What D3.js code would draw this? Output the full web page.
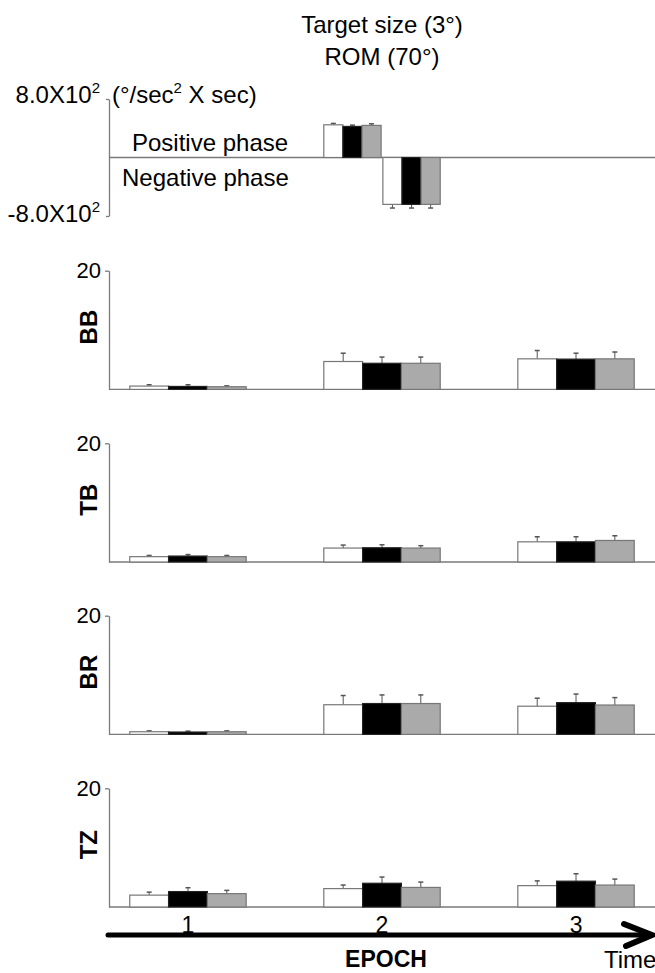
<!DOCTYPE html>
<html>
<head>
<meta charset="utf-8">
<script src="https://cdn.jsdelivr.net/npm/d3@7"></script>
<style>
  body { margin: 0; background: white; }
  svg { display: block; }
</style>
</head>
<body>
<div id="viz-container"></div>
<script>
// epochs on the time axis
let epochs = ["1", "2", "3"];
// the three conditions (white, black, grey bars)
let conditions = ["c1", "c2", "c3"];
let muscles = ["BB", "TB", "BR", "TZ"];

// EMG means per epoch x condition, and the top of each error bar
let bbMean = [[0.56, 0.5, 0.45], [4.7, 4.4, 4.4], [5.15, 5.1, 5.15]];
let bbErr = [[0.78, 0.78, 0.6], [6.1, 5.45, 5.45], [6.55, 6.1, 6.3]];
let tbMean = [[0.9, 1.0, 0.9], [2.35, 2.4, 2.35], [3.4, 3.4, 3.63]];
let tbErr = [[1.1, 1.25, 1.1], [2.85, 2.9, 2.75], [4.25, 4.25, 4.42]];
let brMean = [[0.45, 0.4, 0.45], [5.0, 5.2, 5.2], [4.75, 5.35, 4.95]];
let brErr = [[0.6, 0.55, 0.6], [6.55, 6.65, 6.65], [6.1, 6.8, 6.2]];
let tzMean = [[2.0, 2.6, 2.25], [3.1, 4.0, 3.3], [3.6, 4.35, 3.7]];
let tzErr = [[2.5, 3.25, 2.8], [3.7, 5.05, 4.2], [4.4, 5.6, 4.7]];
let emgTicks = [20];

// acceleration impulse of epoch 2, split in phases
let phases = ["Positive phase", "Negative phase"];
let phaseMean = [[447, 425, 439], [-641, -641, -641]];
let phaseErr = [[466, 443, 461], [-691, -691, -691]];
let phaseTicks = [-800, 800];

let W = 655, H = 973;
let font = "'Liberation Sans', Arial, sans-serif";
let fills = { c1: "white", c2: "black", c3: "#aaaaaa" };
let strokes = { c1: "#777", c2: "#222", c3: "#777" };
let axisColor = "#7a7a7a";

let viz = d3.select("#viz-container")
  .append("svg")
    .attr("width", W)
    .attr("height", H)
    .attr("font-family", font)
;

let x = d3.scaleBand().domain(epochs).range([109, W]).paddingInner(0.4).paddingOuter(0.107);
let xc = d3.scaleBand().domain(conditions).range([0, x.bandwidth()]);
let xp = d3.scaleBand().domain(phases).range([0, x.bandwidth()]).paddingInner(0.03);
let xpc = d3.scaleBand().domain(conditions).range([0, xp.bandwidth()]);

//title over epoch 2
let midX = x("2") + x.bandwidth() / 2;
viz.append("text")
    .attr("x", midX).attr("y", 33)
    .attr("text-anchor", "middle").attr("font-size", 24)
    .text("Target size (3°)");
viz.append("text")
    .attr("x", midX).attr("y", 65)
    .attr("text-anchor", "middle").attr("font-size", 24)
    .text("ROM (70°)");

function styleAxis(g, size){
  g.attr("font-family", font).attr("font-size", size);
  g.select(".domain").attr("stroke", axisColor).attr("stroke-width", 1.3);
  g.selectAll(".tick line").attr("stroke", axisColor).attr("stroke-width", 1.3);
  g.selectAll(".tick text").attr("fill", "black");
}

function errorBars(g, rows, xpos, w, y){
  g.selectAll(".err").data(rows).enter()
    .append("line")
      .attr("x1", d => xpos(d) + w / 2)
      .attr("x2", d => xpos(d) + w / 2)
      .attr("y1", d => y(d.mean))
      .attr("y2", d => y(d.err))
      .attr("stroke", "#555").attr("stroke-width", 1)
  ;
  g.selectAll(".cap").data(rows).enter()
    .append("line")
      .attr("x1", d => xpos(d) + w / 2 - 2.5)
      .attr("x2", d => xpos(d) + w / 2 + 2.5)
      .attr("y1", d => y(d.err))
      .attr("y2", d => y(d.err))
      .attr("stroke", "#555").attr("stroke-width", 1.5)
  ;
}

function bars(g, rows, xpos, w, y){
  g.selectAll(".bar").data(rows).enter()
    .append("rect")
      .attr("x", d => xpos(d))
      .attr("width", w)
      .attr("y", d => Math.min(y(d.mean), y(0)))
      .attr("height", d => Math.abs(y(d.mean) - y(0)))
      .attr("fill", d => fills[d.cond])
      .attr("stroke", d => strokes[d.cond])
      .attr("stroke-width", 1.2)
  ;
}

//top panel: positive / negative phase
let yTop = d3.scaleLinear().domain([-800, 800]).range([216, 99]);
let topPanel = viz.append("g");

let phaseRows = [];
phases.forEach((p, i) => conditions.forEach((c, j) => {
  phaseRows.push({ phase: p, cond: c, mean: phaseMean[i][j], err: phaseErr[i][j] });
}));

topPanel.append("line")
    .attr("x1", 109).attr("x2", W)
    .attr("y1", yTop(0)).attr("y2", yTop(0))
    .attr("stroke", axisColor).attr("stroke-width", 1.3);

let phaseX = d => x("2") + xp(d.phase) + xpc(d.cond);
errorBars(topPanel, phaseRows, phaseX, xpc.bandwidth(), yTop);
bars(topPanel, phaseRows, phaseX, xpc.bandwidth(), yTop);

let topAxis = topPanel.append("g")
    .attr("transform", "translate(109,0)")
    .call(d3.axisLeft(yTop).tickValues(phaseTicks).tickSize(3).tickPadding(6).tickSizeOuter(0));
styleAxis(topAxis, 24);
//write 800 as 8.0X10 with a raised exponent
topAxis.selectAll(".tick text").each(function(d){
  let e = Math.floor(Math.log10(Math.abs(d)));
  let m = (d / Math.pow(10, e)).toFixed(1);
  let t = d3.select(this).text(m + "X10").attr("dy", d > 0 ? "0.16em" : "0.24em");
  t.append("tspan").attr("dy", -10).attr("font-size", 15).text(e);
});

let unit = topPanel.append("text").attr("x", 112).attr("y", 103).attr("font-size", 24);
unit.append("tspan").text("(°/sec");
unit.append("tspan").attr("dy", -10).attr("font-size", 15).text("2");
unit.append("tspan").attr("dy", 10).text(" X sec)");

topPanel.append("text").attr("x", 132).attr("y", 151).attr("font-size", 24).text(phases[0]);
topPanel.append("text").attr("x", 122).attr("y", 186).attr("font-size", 24).text(phases[1]);

//EMG panels
let panelTop = [270.7, 443.3, 615.7, 788.3];
let panelH = 118.7;
let means = [bbMean, tbMean, brMean, tzMean];
let errs = [bbErr, tbErr, brErr, tzErr];

muscles.forEach((name, k) => {
  let y = d3.scaleLinear().domain([0, 20]).range([panelTop[k] + panelH, panelTop[k]]);
  let g = viz.append("g");

  let rows = [];
  epochs.forEach((ep, i) => conditions.forEach((c, j) => {
    rows.push({ epoch: ep, cond: c, mean: means[k][i][j], err: errs[k][i][j] });
  }));

  let barX = d => x(d.epoch) + xc(d.cond);
  errorBars(g, rows, barX, xc.bandwidth(), y);

  g.append("line")
      .attr("x1", 109).attr("x2", W)
      .attr("y1", y(0)).attr("y2", y(0))
      .attr("stroke", axisColor).attr("stroke-width", 1.3);

  bars(g, rows, barX, xc.bandwidth(), y);

  let ax = g.append("g")
      .attr("transform", "translate(109,0)")
      .call(d3.axisLeft(y).tickValues(emgTicks).tickSize(4).tickPadding(4).tickSizeOuter(0));
  styleAxis(ax, 22);

  g.append("text")
      .attr("transform", "translate(97," + ((panelTop[k] + panelH / 2) - 3) + ") rotate(-90)")
      .attr("text-anchor", "middle")
      .attr("font-size", 24)
      .attr("font-weight", "bold")
      .text(name);
});

//time arrow with epoch numbers
let arrowY = 935;
let bottom = viz.append("g");
bottom.append("line")
    .attr("x1", 108).attr("x2", W - 6)
    .attr("y1", arrowY).attr("y2", arrowY)
    .attr("stroke", "black").attr("stroke-width", 5).attr("stroke-linecap", "round");
bottom.append("path")
    .attr("d", "M" + (W - 31) + "," + (arrowY - 11) + "L" + (W - 3) + "," + arrowY + "L" + (W - 29) + "," + (arrowY + 11))
    .attr("fill", "none").attr("stroke", "black").attr("stroke-width", 6)
    .attr("stroke-linecap", "round").attr("stroke-linejoin", "miter");

let epochAxis = bottom.append("g")
    .attr("transform", "translate(0," + arrowY + ")")
    .call(d3.axisTop(x).tickSize(0).tickPadding(2));
epochAxis.select(".domain").remove();
epochAxis.attr("font-family", font).attr("font-size", 23);
epochAxis.selectAll(".tick text").attr("fill", "black");

bottom.append("text")
    .attr("x", midX + 4).attr("y", 967)
    .attr("text-anchor", "middle").attr("font-size", 23).attr("font-weight", "bold")
    .text("EPOCH");
bottom.append("text")
    .attr("x", 604).attr("y", 968).attr("font-size", 24)
    .text("Time");
</script>
</body>
</html>
